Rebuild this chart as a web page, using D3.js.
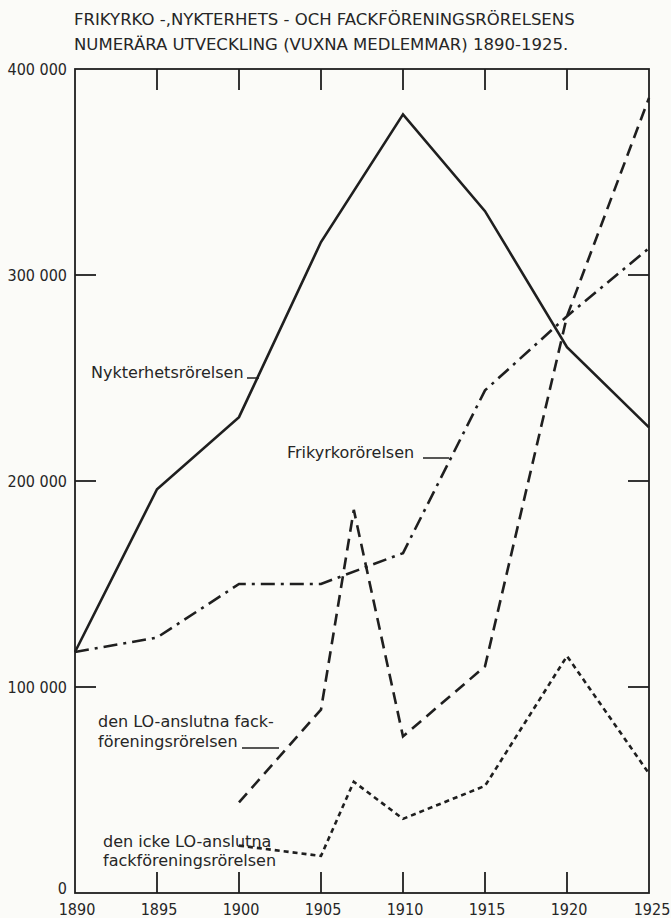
<!DOCTYPE html>
<html>
<head>
<meta charset="utf-8">
<script src="https://cdn.jsdelivr.net/npm/d3@7"></script>
<style>
  body { margin: 0; background: #fbfbf8; }
  svg { display: block; }
  text { font-family: "DejaVu Sans", "Noto Sans", sans-serif; fill: #262626; }
  .num { font-family: "DejaVu Sans Condensed", "DejaVu Sans", sans-serif; }
</style>
</head>
<body>
<script>
const width = 671
const height = 918

// membership numbers (adult members)
const nykterYears = [1890, 1895, 1900, 1905, 1910, 1915, 1920, 1925];
const nykterValues = [117000, 196000, 231000, 316000, 378000, 331000, 265000, 226000];

const frikyrkoYears = [1890, 1895, 1900, 1905, 1910, 1915, 1920, 1925];
const frikyrkoValues = [117000, 124000, 150000, 150000, 165000, 244000, 280000, 313000];

const loYears = [1900, 1905, 1907, 1910, 1915, 1920, 1925];
const loValues = [44000, 89000, 186000, 76000, 110000, 280000, 386000];

const ickeLoYears = [1900, 1905, 1907, 1910, 1915, 1920, 1925];
const ickeLoValues = [23000, 18000, 54000, 36000, 52000, 115000, 58000];

const xTicks = [1890, 1895, 1900, 1905, 1910, 1915, 1920, 1925];
const yTicks = [0, 100000, 200000, 300000, 400000];
const yTickLabels = ["0", "100 000", "200 000", "300 000", "400 000"];

const titleLines = [
    "FRIKYRKO -,NYKTERHETS - OCH FACKFÖRENINGSRÖRELSENS",
    "NUMERÄRA UTVECKLING (VUXNA MEDLEMMAR) 1890-1925."
];

const margin = {top: 69, right: 22, bottom: 25, left: 75};
const innerW = width - margin.left - margin.right;
const innerH = height - margin.top - margin.bottom;

const svg = d3.select("body").append("svg")
    .attr("width", width)
    .attr("height", height);

const g = svg.append("g")
    .attr("transform", `translate(${margin.left},${margin.top})`);

const x = d3.scaleLinear().domain([1890, 1925]).range([0, innerW]);
const y = d3.scaleLinear().domain([0, 400000]).range([innerH, 0]);

const ink = "#1f1f1f";

// frame
g.append("rect")
    .attr("width", innerW)
    .attr("height", innerH)
    .attr("fill", "none")
    .attr("stroke", ink)
    .attr("stroke-width", 1.8);

// inner ticks on all four sides
const tickLen = 21;
const midX = xTicks.slice(1, -1);
const midY = yTicks.slice(1, -1);

const ticks = g.append("g")
    .attr("stroke", ink)
    .attr("stroke-width", 1.8);

ticks.selectAll(".tt").data(midX).enter().append("line")
    .attr("class", "tt")
    .attr("x1", d => x(d)).attr("x2", d => x(d))
    .attr("y1", 0).attr("y2", tickLen);
ticks.selectAll(".tb").data(midX).enter().append("line")
    .attr("class", "tb")
    .attr("x1", d => x(d)).attr("x2", d => x(d))
    .attr("y1", innerH).attr("y2", innerH - tickLen);
ticks.selectAll(".tl").data(midY).enter().append("line")
    .attr("class", "tl")
    .attr("x1", 0).attr("x2", tickLen)
    .attr("y1", d => y(d)).attr("y2", d => y(d));
ticks.selectAll(".tr").data(midY).enter().append("line")
    .attr("class", "tr")
    .attr("x1", innerW).attr("x2", innerW - tickLen)
    .attr("y1", d => y(d)).attr("y2", d => y(d));

// tick labels
g.append("g").selectAll("text").data(xTicks).enter().append("text")
    .attr("class", "num")
    .attr("x", d => x(d) + (d === 1925 ? 3 : 2))
    .attr("y", innerH + 22)
    .attr("text-anchor", "middle")
    .attr("font-size", 16)
    .text(d => d);

g.append("g").selectAll("text").data(yTicks).enter().append("text")
    .attr("class", "num")
    .attr("x", -8)
    .attr("y", d => y(d) + (d === 0 ? 1 : 6))
    .attr("text-anchor", "end")
    .attr("font-size", 16)
    .text((d, i) => yTickLabels[i]);

// title
svg.append("g").selectAll("text").data(titleLines).enter().append("text")
    .attr("x", 74)
    .attr("y", (d, i) => 25 + i * 25)
    .attr("font-size", 16.5)
    .text(d => d);

// series
const line = d3.line()
    .x(d => x(d[0]))
    .y(d => y(d[1]));

const series = [
    {years: nykterYears, values: nykterValues, dash: null},
    {years: frikyrkoYears, values: frikyrkoValues, dash: "14,6,3,6"},
    {years: loYears, values: loValues, dash: "12,7"},
    {years: ickeLoYears, values: ickeLoValues, dash: "5,4"}
];

g.append("g").selectAll("path").data(series).enter().append("path")
    .attr("d", s => line(s.years.map((yr, i) => [yr, s.values[i]])))
    .attr("fill", "none")
    .attr("stroke", ink)
    .attr("stroke-width", 2.6)
    .attr("stroke-dasharray", s => s.dash);

// annotations
const notes = [
    {text: "Nykterhetsrörelsen", x: 91, y: 378},
    {text: "Frikyrkorörelsen", x: 287, y: 458},
    {text: "den LO-anslutna fack-", x: 98, y: 727},
    {text: "föreningsrörelsen", x: 98, y: 747},
    {text: "den icke LO-anslutna", x: 103, y: 847},
    {text: "fackföreningsrörelsen", x: 103, y: 866}
];

svg.append("g").selectAll("text").data(notes).enter().append("text")
    .attr("x", d => d.x)
    .attr("y", d => d.y)
    .attr("font-size", 16)
    .text(d => d.text);

// leader lines from labels to curves
const leaders = [
    [[247, 378], [259, 378]],
    [[423, 458], [449, 458]],
    [[242, 748], [279, 748]]
];
svg.append("g").selectAll("line").data(leaders).enter().append("line")
    .attr("x1", d => d[0][0]).attr("y1", d => d[0][1])
    .attr("x2", d => d[1][0]).attr("y2", d => d[1][1])
    .attr("stroke", ink).attr("stroke-width", 1.5);
</script>
</body>
</html>
